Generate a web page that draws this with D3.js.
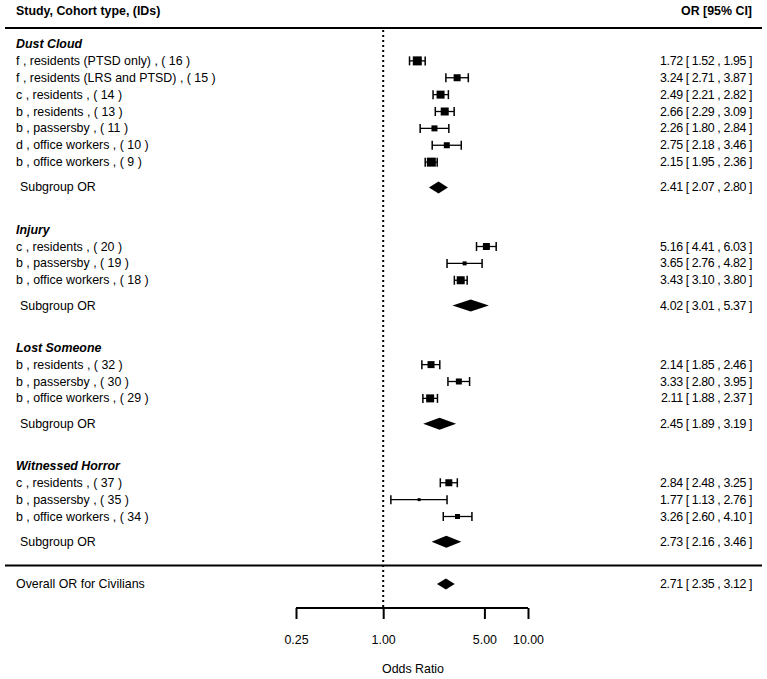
<!DOCTYPE html>
<html><head><meta charset="utf-8">
<script src="https://cdn.jsdelivr.net/npm/d3@7"></script>
<style>body{margin:0;background:#fff}text{font-family:"Liberation Sans",Arial,sans-serif;font-size:12.4px;fill:#000}text.num{letter-spacing:-0.4px}</style>
</head><body><svg id="c" width="767" height="679"></svg>
<script>
const groups = ["Dust Cloud", "Injury", "Lost Someone", "Witnessed Horror"];
const studyGroup = [0,0,0,0,0,0,0, 1,1,1, 2,2,2, 3,3,3];
const studyLabels = [
 "f , residents (PTSD only) , ( 16 )","f , residents (LRS and PTSD) , ( 15 )","c , residents , ( 14 )","b , residents , ( 13 )","b , passersby , ( 11 )","d , office workers , ( 10 )","b , office workers , ( 9 )",
 "c , residents , ( 20 )","b , passersby , ( 19 )","b , office workers , ( 18 )",
 "b , residents , ( 32 )","b , passersby , ( 30 )","b , office workers , ( 29 )",
 "c , residents , ( 37 )","b , passersby , ( 35 )","b , office workers , ( 34 )"];
const studyOR = [1.72,3.24,2.49,2.66,2.26,2.75,2.15, 5.16,3.65,3.43, 2.14,3.33,2.11, 2.84,1.77,3.26];
const studyLo = [1.52,2.71,2.21,2.29,1.80,2.18,1.95, 4.41,2.76,3.10, 1.85,2.80,1.88, 2.48,1.13,2.60];
const studyHi = [1.95,3.87,2.82,3.09,2.84,3.46,2.36, 6.03,4.82,3.80, 2.46,3.95,2.37, 3.25,2.76,4.10];
const studyWeight = [8,6,7,7,5,5,8, 6,3,7, 6,5,7, 6,2,4];
const subOR = [2.41,4.02,2.45,2.73];
const subLo = [2.07,3.01,1.89,2.16];
const subHi = [2.80,5.37,3.19,3.46];
const overall = {or:2.71, lo:2.35, hi:3.12, label:"Overall OR for Civilians"};
const ticks = [0.25,1.00,5.00,10.00];

const svg = d3.select("#c");
const x = d3.scaleLog().domain([0.25,10]).range([296,528]);
const y = d3.scaleLinear().domain([0,32]).range([44,584]);
const size = d3.scaleLinear().domain([0,8]).range([1,9]);
const f2 = d3.format(".2f");
const ciText = (o,l,h)=>`${f2(o)} [ ${f2(l)} , ${f2(h)} ]`;

const rows = [];
let r = 0;
groups.forEach((g,gi)=>{
  rows.push({type:"head", label:g, row:r}); r++;
  studyGroup.forEach((sg,i)=>{ if(sg===gi){ rows.push({type:"study", i, row:r}); r++; } });
  r += 0.5;
  rows.push({type:"sub", gi, row:r}); r += 2.5;
});

svg.append("text").attr("x",16).attr("y",15).style("font-weight","bold").text("Study, Cohort type, (IDs)");
svg.append("text").attr("x",752).attr("y",15).attr("text-anchor","end").style("font-weight","bold").text("OR [95% CI]");
svg.append("line").attr("x1",5).attr("x2",762).attr("y1",28).attr("y2",28).attr("stroke","#000").attr("stroke-width",2);
svg.append("line").attr("x1",5).attr("x2",762).attr("y1",y(30.9)).attr("y2",y(30.9)).attr("stroke","#000").attr("stroke-width",2);

svg.append("line").attr("x1",x(1)).attr("x2",x(1)).attr("y1",30).attr("y2",607)
  .attr("stroke","#000").attr("stroke-width",2).attr("stroke-dasharray","2,3");

const diamond = (o,l,h,yy,hh)=>`M${x(l)},${yy}L${x(o)},${yy-hh/2}L${x(h)},${yy}L${x(o)},${yy+hh/2}Z`;

rows.forEach(d=>{
  const yy = y(d.row);
  if(d.type==="head"){
    svg.append("text").attr("x",16).attr("y",yy+4).style("font-weight","bold").style("font-style","italic").text(d.label);
  } else if(d.type==="study"){
    const i=d.i;
    svg.append("text").attr("x",16).attr("y",yy+4).text(studyLabels[i]);
    svg.append("text").attr("class","num").attr("x",752).attr("y",yy+4).attr("text-anchor","end").text(ciText(studyOR[i],studyLo[i],studyHi[i]));
    svg.append("line").attr("x1",x(studyLo[i])).attr("x2",x(studyHi[i])).attr("y1",yy).attr("y2",yy).attr("stroke","#000").attr("stroke-width",1.3);
    [studyLo[i],studyHi[i]].forEach(v=>svg.append("line").attr("x1",x(v)).attr("x2",x(v)).attr("y1",yy-4.5).attr("y2",yy+4.5).attr("stroke","#000").attr("stroke-width",1.5));
    const s=size(studyWeight[i]);
    svg.append("rect").attr("x",x(studyOR[i])-s/2).attr("y",yy-s/2).attr("width",s).attr("height",s).attr("fill","#000");
  } else {
    const gi=d.gi;
    svg.append("text").attr("x",20).attr("y",yy+4).text("Subgroup OR");
    svg.append("text").attr("class","num").attr("x",752).attr("y",yy+4).attr("text-anchor","end").text(ciText(subOR[gi],subLo[gi],subHi[gi]));
    svg.append("path").attr("d",diamond(subOR[gi],subLo[gi],subHi[gi],yy,12)).attr("fill","#000");
  }
});

const yo = y(32);
svg.append("text").attr("x",16).attr("y",yo+4).text(overall.label);
svg.append("text").attr("class","num").attr("x",752).attr("y",yo+4).attr("text-anchor","end").text(ciText(overall.or,overall.lo,overall.hi));
svg.append("path").attr("d",diamond(overall.or,overall.lo,overall.hi,yo,11)).attr("fill","#000");

const ax = svg.append("g").attr("transform","translate(0,608)")
  .call(d3.axisBottom(x).tickValues(ticks).tickFormat(f2).tickSize(11).tickSizeOuter(0));
ax.select(".domain").attr("stroke-width",2).attr("d",`M${x(0.25)},0H${x(10)}`);
ax.selectAll(".tick line").attr("stroke-width",2);
ax.selectAll(".tick text").attr("y",27).style("font-family","'Liberation Sans',Arial,sans-serif").style("font-size","12.4px");
svg.append("text").attr("x",413).attr("y",673).attr("text-anchor","middle").text("Odds Ratio");
</script></body></html>
